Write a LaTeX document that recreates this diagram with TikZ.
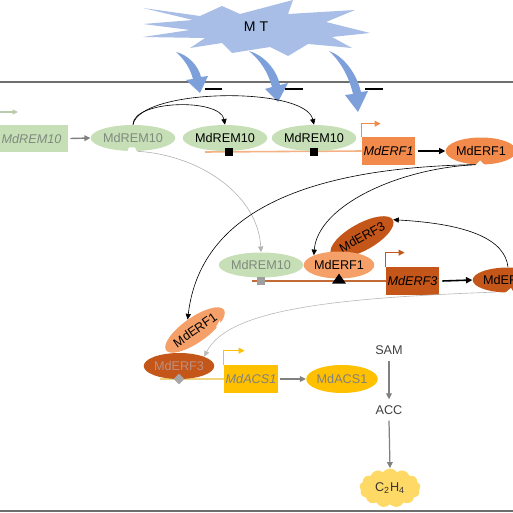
\documentclass[tikz,border=0pt]{standalone}
\usepackage{fontspec}
\setmainfont{Liberation Sans}
\usetikzlibrary{shapes.geometric,shapes.symbols,arrows.meta}
\definecolor{mtstar}{HTML}{A8BEE6}
\definecolor{mtarrow}{HTML}{7D9FDA}
\definecolor{remgreen}{HTML}{C6DFB6}
\definecolor{fadetext}{HTML}{7F8A7F}
\definecolor{erfone}{HTML}{F28A4C}
\definecolor{erfonelight}{HTML}{F5A068}
\definecolor{erfthree}{HTML}{C4561A}
\definecolor{erfthreetext}{HTML}{BE9080}
\definecolor{acsyellow}{HTML}{FFC000}
\definecolor{cloudyellow}{HTML}{FFD966}
\definecolor{lineone}{HTML}{F4B183}
\definecolor{linetwo}{HTML}{C46A36}
\definecolor{linethree}{HTML}{F2D47E}
\definecolor{framegray}{HTML}{6E6E6E}
\begin{document}
\begin{tikzpicture}[x=0.02cm,y=-0.02cm,
  font=\fontsize{7.2}{8.5}\selectfont,
  prot/.style={ellipse, inner sep=0pt, minimum height=0.52cm},
  genebox/.style={rectangle, inner sep=0pt, minimum height=0.56cm, font=\fontsize{7.2}{8.5}\selectfont\itshape},
  thinarrow/.style={line width=0.35pt, -{Triangle[length=3.2pt,width=3pt]}},
  boldarrow/.style={line width=0.9pt, -{Triangle[length=3.6pt,width=3.4pt]}},
  grayarrow/.style={line width=0.8pt, draw=gray, -{Triangle[length=3.4pt,width=3.2pt]}},
  promoter/.style={line width=0.8pt, -{Triangle[length=3.4pt,width=3.2pt]}},
  notch/.style={fill=white},
]
\useasboundingbox (0,0) rectangle (513,513);
\clip (0,0) rectangle (513,513);

% frame lines
\draw[framegray, line width=0.9pt] (0,82) -- (513,82);
\draw[framegray, line width=1.4pt] (0,511) -- (513,511);

% MT star
\fill[mtstar] (143,8) -- (200,16) -- (222,6) -- (240,14) -- (293,0) -- (288,14)
  -- (355,10) -- (326,22) -- (370,33) -- (332,37) -- (352,48) -- (308,44)
  -- (288,56) -- (270,47) -- (232,53) -- (222,43) -- (190,48) -- (205,38)
  -- (143,37) -- (190,30) -- (143,24) -- (193,20) -- cycle;
\node[font=\fontsize{8}{9}\selectfont] (mt) at (256,27) {M T};

% blue curved arrows
\fill[mtarrow] (176,52) .. controls (188,55) and (198,65) .. (201,77) -- (208,76) -- (200,93)
  -- (186,80) -- (193,79) .. controls (190,68) and (184,59) .. (176,52) -- cycle;
\fill[mtarrow] (249,51) .. controls (263,55) and (276,68) .. (280,85) -- (288,83) -- (278,102)
  -- (265,89) -- (272,87) .. controls (268,72) and (260,60) .. (249,51) -- cycle;
\fill[mtarrow] (329,51) .. controls (343,56) and (356,72) .. (361,92) -- (368,91) -- (358,112)
  -- (345,95) -- (353,94) .. controls (349,77) and (341,62) .. (329,51) -- cycle;

% inhibition bars
\coordinate (i1a) at (205,89); \coordinate (i1b) at (222,89);
\coordinate (i2a) at (285,89); \coordinate (i2b) at (303,89);
\coordinate (i3a) at (365,89); \coordinate (i3b) at (383,89);
\draw[line width=0.9pt] (i1a) -- (i1b);
\draw[line width=0.9pt] (i2a) -- (i2b);
\draw[line width=0.9pt] (i3a) -- (i3b);

% top-left faded arrow
\coordinate (fa) at (0,112); \coordinate (fb) at (18,112);
\draw[line width=0.6pt, draw=remgreen!80!gray, -{Triangle[length=3pt,width=2.8pt]}] (fa) -- (fb);

% ---- row 1 ----
\node[genebox, fill=remgreen, text=fadetext, minimum width=1.46cm] (gREM) at (31.5,138.5) {MdREM10};
\node[prot, fill=remgreen, text=fadetext, minimum width=1.64cm] (pREM0) at (133,138) {MdREM10};
\fill[notch] (127,152.5) -- (137,152.5) -- (135,147.5) -- (129,147.5) -- cycle;
\draw[grayarrow] (gREM.east) ++(2,0) coordinate (gREMo) (gREMo) -- (pREM0.west);

\coordinate (l1s) at (205,152);
\node[genebox, fill=erfone, text=black, minimum width=1.06cm] (gERF1) at (388.5,151) {MdERF1};
\draw[lineone, line width=0.9pt] (l1s) -- (gERF1.west);
\node[prot, fill=remgreen, minimum width=1.48cm] (pREM1) at (225,138) {MdREM10};
\node[prot, fill=remgreen, minimum width=1.62cm] (pREM2) at (314,138) {MdREM10};
\node[fill=black, minimum size=0.16cm, inner sep=0pt] (sq1) at (229,152) {};
\node[fill=black, minimum size=0.16cm, inner sep=0pt] (sq2) at (314,152) {};
\draw[erfone, promoter] (gERF1.north west) -- ++(0,-13) -- ++(19,0);

\node[prot, fill=erfone, minimum width=1.16cm, minimum height=0.54cm] (pERF1a) at (481,151) {MdERF1};
\fill[notch] (475,165.5) -- (485,165.5) -- (480,160.5) -- cycle;
\draw[boldarrow] (gERF1.east) ++(3,0) coordinate (gERF1o) (gERF1o) -- (pERF1a.west);

% REM10 self-activation arcs
\draw[thinarrow] (pREM0.north) .. controls (133,100) and (220,98) .. (pREM1.north);
\draw[thinarrow] (pREM0.north) .. controls (140,88) and (305,86) .. (pREM2.north);

% ---- row 2 ----
\coordinate (l2s) at (252,281);
\node[genebox, fill=erfthree, text=black, minimum width=1.06cm] (gERF3) at (412.5,281) {MdERF3};
\draw[linetwo, line width=0.9pt] (l2s) -- (gERF3.west);
\draw[erfthree, promoter] (gERF3.north west) -- ++(0,-14) -- ++(19,0);
\node[prot, fill=remgreen, text=fadetext, minimum width=1.64cm, minimum height=0.5cm] (pREM3) at (261,265) {MdREM10};
\node[fill=gray!75, minimum size=0.16cm, inner sep=0pt] (sq3) at (261,281) {};
\node[prot, fill=erfthree, minimum width=1.26cm, minimum height=0.54cm, rotate=29] (pERF3b) at (362,237) {MdERF3};
\node[prot, fill=erfonelight, minimum width=1.24cm, minimum height=0.54cm] (pERF1b) at (339,265) {MdERF1};
\node[isosceles triangle, isosceles triangle apex angle=70, shape border rotate=90, fill=black, inner sep=0pt, minimum height=0.2cm, minimum width=0.24cm] (tri) at (339,280) {};

\node[prot, fill=erfthree, minimum width=1.32cm, minimum height=0.5cm] (pERF3a) at (508,280) {MdERF3};
\fill[notch] (505,293) -- (514,293) -- (511,288) -- cycle;
\draw[boldarrow] (gERF3.east) ++(3,0) coordinate (gERF3o) (gERF3o) -- (pERF3a.west);

% ---- row 3 ----
\coordinate (l3s) at (160,379);
\node[genebox, fill=acsyellow, text=gray, minimum width=1.08cm] (gACS) at (251,379) {MdACS1};
\draw[linethree, line width=0.9pt] (l3s) -- (gACS.west);
\draw[acsyellow, promoter] (gACS.north west) -- ++(0,-14) -- ++(21,0);
\node[prot, fill=erfthree, text=erfthreetext, minimum width=1.24cm, minimum height=0.52cm] (pERF3c) at (179,366) {MdERF3};
\node[prot, fill=erfonelight, minimum width=1.24cm, minimum height=0.5cm, rotate=35] (pERF1c) at (195,330) {MdERF1};
\fill[notch] (220,320) -- (222,330) -- (216,327) -- cycle;
\node[diamond, fill=gray!70, inner sep=0pt, minimum size=0.22cm] (dia) at (179,379) {};
\node[prot, fill=acsyellow, text=gray, minimum width=1.22cm, minimum height=0.56cm] (pACS) at (342,379) {MdACS1};
\draw[grayarrow] (gACS.east) ++(2,0) coordinate (gACSo) (gACSo) -- (pACS.west);

% ethylene pathway
\node[text=black!75] (sam) at (389,350) {SAM};
\node[text=black!75] (acc) at (389,410) {ACC};
\node[cloud, cloud puffs=13, cloud puff arc=110, aspect=1.6, fill=cloudyellow, inner sep=0pt, minimum width=1.22cm, minimum height=0.78cm, text=black!80] (eth) at (390,488) {C\textsubscript{2}H\textsubscript{4}};
\draw[grayarrow, line width=0.7pt] (sam.south) -- (acc.north);
\draw[grayarrow, line width=0.7pt] (acc.south) -- (eth.north);

% long regulatory curves
\draw[thinarrow, draw=gray!60, -{Triangle[length=3.2pt,width=3pt, fill=gray!60]}] (pREM0.-72) .. controls (200,155) and (258,195) .. (pREM3.north);
\draw[thinarrow] (pERF1a.-110) .. controls (400,168) and (318,205) .. (pERF1b.north west);
\draw[thinarrow] (pERF1a.-115) .. controls (300,168) and (200,215) .. (pERF1c.north);
\draw[thinarrow] (pERF3a.north) .. controls (505,240) and (470,224) .. (pERF3b.east);
\draw[thinarrow, draw=gray!55] (pERF3a.-135) .. controls (330,298) and (228,310) .. (pERF3c.north east);

\end{tikzpicture}
\end{document}
